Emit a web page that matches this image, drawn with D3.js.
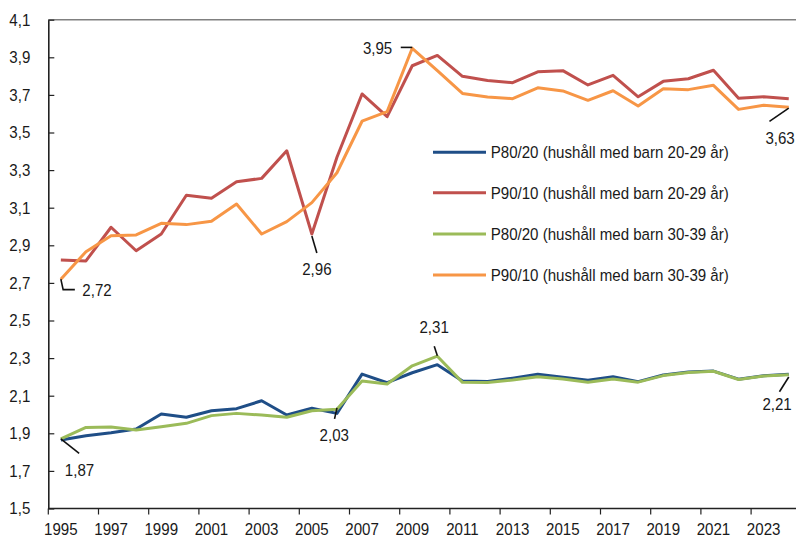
<!DOCTYPE html>
<html>
<head>
<meta charset="utf-8">
<script src="https://cdn.jsdelivr.net/npm/d3@7"></script>
<style>
  html, body { margin: 0; padding: 0; background: #fff; }
  svg { display: block; }
  text { font-family: "Liberation Sans", Arial, "DejaVu Sans", sans-serif; fill: #1a1a1a; }
</style>
</head>
<body>
<svg id="chart" width="796" height="539"></svg>
<script>
const years = [1995,1996,1997,1998,1999,2000,2001,2002,2003,2004,2005,2006,2007,2008,2009,2010,
               2011,2012,2013,2014,2015,2016,2017,2018,2019,2020,2021,2022,2023,2024];

const p8020_2029 = [1.864,1.887,1.903,1.923,2.003,1.985,2.020,2.031,2.073,1.997,2.033,2.006,2.215,2.169,2.222,2.265,
                    2.178,2.175,2.193,2.214,2.198,2.182,2.201,2.175,2.210,2.226,2.231,2.188,2.206,2.214];
const p9010_2029 = [2.822,2.817,2.996,2.871,2.960,3.166,3.150,3.238,3.256,3.403,2.960,3.368,3.705,3.584,3.855,3.910,
                    3.799,3.777,3.765,3.823,3.829,3.753,3.804,3.690,3.772,3.786,3.831,3.682,3.690,3.680];
const p8020_3039 = [1.870,1.931,1.934,1.918,1.935,1.953,1.994,2.006,1.997,1.985,2.020,2.028,2.178,2.162,2.259,2.310,
                    2.171,2.170,2.184,2.201,2.189,2.171,2.189,2.172,2.207,2.224,2.230,2.186,2.205,2.212];
const p9010_3039 = [2.719,2.866,2.951,2.955,3.017,3.010,3.028,3.120,2.960,3.026,3.127,3.286,3.560,3.611,3.948,3.829,
                    3.708,3.689,3.680,3.738,3.721,3.671,3.722,3.641,3.733,3.728,3.751,3.623,3.645,3.634];

const seriesNames = ["P80/20 (hushåll med barn 20-29 år)", "P90/10 (hushåll med barn 20-29 år)",
                     "P80/20 (hushåll med barn 30-39 år)", "P90/10 (hushåll med barn 30-39 år)"];
const seriesValues = [p8020_2029, p9010_2029, p8020_3039, p9010_3039];
const seriesColors = ["#1F4E87", "#C0504D", "#9BBB59", "#F79646"];

const yTicks = [1.5,1.7,1.9,2.1,2.3,2.5,2.7,2.9,3.1,3.3,3.5,3.7,3.9,4.1];
const xTickLabels = [1995,1997,1999,2001,2003,2005,2007,2009,2011,2013,2015,2017,2019,2021,2023];

// annotations: [year, value, label]
const annotations = [
  [1995, 2.72, "2,72"], [2005, 2.96, "2,96"], [2009, 3.95, "3,95"], [2024, 3.63, "3,63"],
  [1995, 1.87, "1,87"], [2006, 2.03, "2,03"], [2010, 2.31, "2,31"], [2024, 2.21, "2,21"]
];

const svg = d3.select("#chart");
const left = 48.3, bw = 25.1;
const x = d3.scaleBand().domain(years).range([left, left + bw * years.length]).padding(0);
const xc = d => x(d) + x.bandwidth() / 2;
const y = d3.scaleLinear().domain([1.5, 4.1]).range([508.5, 19.7]);
const fmt = v => d3.format(".1f")(v).replace(".", ",");
const FS = 16.5, SX = 0.915;

// condensed text helper
function addText(g, tx, ty, t, anchor, dy) {
  return g.append("text")
    .attr("transform", `translate(${tx},${ty}) scale(${SX},1)`)
    .attr("text-anchor", anchor || "start")
    .attr("dy", dy || 0)
    .style("font-size", FS + "px")
    .text(t);
}

// top grey line
svg.append("line").attr("x1", left).attr("x2", 796).attr("y1", y(4.1)).attr("y2", y(4.1))
  .attr("stroke", "#808080").attr("stroke-width", 1.6);

// y axis (ticks inward, labels manual)
const yAxis = svg.append("g").attr("transform", `translate(${left},0)`)
  .call(d3.axisLeft(y).tickValues(yTicks).tickFormat("").tickSize(-6).tickSizeOuter(0));
yAxis.select(".domain").attr("stroke", "#222").attr("stroke-width", 1.6);
yAxis.selectAll(".tick line").attr("stroke", "#222").attr("stroke-width", 1.2);
const yLab = svg.append("g");
yTicks.forEach(v => addText(yLab, 30.3, y(v), fmt(v), "end", "0.36em"));

// x axis: ticks at band boundaries every 2 years
const xAxisG = svg.append("g").attr("transform", `translate(0,${y(1.5)})`);
xAxisG.append("line").attr("x1", left).attr("x2", 796).attr("stroke", "#222").attr("stroke-width", 1.6);
xAxisG.selectAll("line.tk").data(xTickLabels).enter().append("line").attr("class", "tk")
  .attr("x1", d => x(d)).attr("x2", d => x(d)).attr("y1", 0).attr("y2", 6)
  .attr("stroke", "#222").attr("stroke-width", 1.2);
const xLab = svg.append("g");
xTickLabels.forEach(d => addText(xLab, xc(d), 535.2, d, "middle"));

// lines
const line = d3.line().x((d, i) => xc(years[i])).y(d => y(d));
seriesValues.forEach((vals, k) => {
  svg.append("path").datum(vals).attr("d", line).attr("fill", "none")
    .attr("stroke", seriesColors[k]).attr("stroke-width", 3).attr("stroke-linejoin", "round");
});

// legend
const legendY = [152.3, 192.7, 234.0, 275.0];
const leg = svg.append("g");
seriesNames.forEach((name, k) => {
  leg.append("line").attr("x1", 433).attr("x2", 486).attr("y1", legendY[k]).attr("y2", legendY[k])
    .attr("stroke", seriesColors[k]).attr("stroke-width", 3);
  addText(leg, 490.7, legendY[k], name, "start", "0.36em");
});

// annotations with leader lines (offsets relative to data point)
const ann = svg.append("g");
const lead = (pts) => ann.append("path").attr("d", d3.line()(pts)).attr("fill", "none")
  .attr("stroke", "#111").attr("stroke-width", 1.6);
const lab = (tx, ty, anchor, t) => addText(ann, tx, ty, t, anchor);

annotations.forEach(([yr, v, t], i) => {
  const px = xc(yr), py = y(v);
  if (i === 0) { lead([[px, py], [px + 2.3, py + 10.5], [px + 14, py + 10.5]]); lab(px + 21.5, py + 16.5, "start", t); }
  if (i === 1) { lead([[px, py + 2], [px + 5, py + 19]]); lab(px + 5, py + 41, "middle", t); }
  if (i === 2) { lead([[px - 11.5, py - 0.5], [px, py - 0.5]]); lab(px - 20, py + 6.5, "end", t); }
  if (i === 3) { lead([[px, py], [px - 19.3, py + 13.4]]); lab(px + 6, py + 36, "end", t); }
  if (i === 4) { lead([[px, py], [px + 18.3, py + 14.4]]); lab(px + 4, py + 37, "start", t); }
  if (i === 5) { lead([[px, py - 1], [px - 2.4, py + 10]]); lab(px - 2.7, py + 32.5, "middle", t); }
  if (i === 6) { lead([[px - 3.1, py - 10], [px, py - 0.5]]); lab(px - 3.2, py - 23, "middle", t); }
  if (i === 7) { lead([[px, py + 2], [px - 9.3, py + 16.7]]); lab(px + 3, py + 34.5, "end", t); }
});
</script>
</body>
</html>
